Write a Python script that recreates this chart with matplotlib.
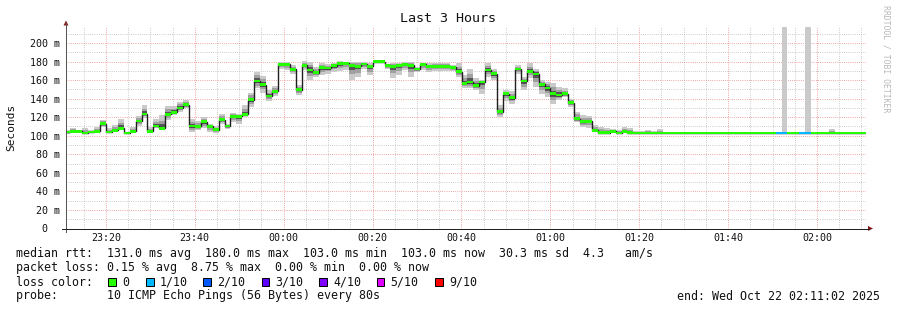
import numpy as np
import matplotlib
matplotlib.use('Agg')
import matplotlib.pyplot as plt
import matplotlib.dates as mdates
from matplotlib.ticker import MultipleLocator, FuncFormatter
from matplotlib.patches import Rectangle, Polygon
from matplotlib.lines import Line2D
from datetime import datetime, timedelta

# ---------------- data (80 s steps) ----------------
median_ms = [104, 105, 105, 103, 104, 105, 113, 104, 106, 108,
             103, 105, 116, 123.5, 105, 110.5, 108, 123, 125.5, 130,
             133.5, 110.5, 110, 115, 110, 106.5, 117.5, 110.5, 121, 121,
             123, 139, 159, 155, 143, 148, 177, 177, 171.5, 149.5,
             176, 171, 168, 173.5, 173, 175.5, 178, 178, 176, 175,
             177.5, 175, 180, 180, 176, 175, 176, 177, 176, 172,
             177, 175, 175, 175, 175, 174, 169, 156.5, 158, 154,
             158, 171, 167, 126, 145.5, 141, 172, 159, 169.5, 166.5,
             155.5, 151.5, 145.5, 144, 145.5, 135.5, 118.5, 115, 115.5, 106,
             103.5, 103.5, 105, 103, 105, 103.5] + [103] * 40

smoke_hi = [106.5, 108.5, 106, 108, 106, 109.5, 117.5, 108, 111.5, 118.5,
            104.5, 109.5, 121, 133, 109.5, 118.5, 122, 132, 132, 136.5,
            138.5, 118.5, 116, 120.5, 113, 110.5, 124, 113, 125, 124,
            133, 146.5, 169, 164.5, 149, 154, 180, 180, 176, 154.5,
            180.5, 180, 174.5, 178, 177.5, 179, 180.5, 180, 180, 180,
            180, 178, 181, 181, 177, 179, 179, 180, 180, 174.5,
            179, 178, 179, 179, 179, 176.5, 178, 165.5, 172.5, 162.5,
            160, 178, 172.5, 133, 149, 148, 176, 163.5, 178, 172.5,
            160, 158, 156.5, 153, 151, 140, 126, 122, 121, 111.5,
            109.5, 108, 107, 106, 109.5, 108, 105, 105, 106, 105.5,
            107, 104, 104, 104, 104, 104, 104, 104, 104, 104,
            104, 104, 104, 104, 104, 104, 104, 104, 104, 104,
            104, 230, 104, 104, 104, 230, 104, 104, 104, 107,
            104, 104, 104, 104, 104, 104]

smoke_lo = [101.5, 102.5, 103, 101.5, 103, 104, 109.5, 102.5, 104, 106,
            101.5, 103.5, 111, 119, 102.5, 108, 106, 117, 122, 125.5,
            130, 104, 106, 108, 104, 103.5, 113, 107, 115, 113,
            120.5, 131, 151, 146.5, 138, 143, 172.5, 171, 167, 144,
            171, 160, 163.5, 166, 167, 169, 170, 171, 160, 163.5,
            172.5, 165.5, 179, 179, 172, 162, 165, 171, 163.5, 169,
            171, 169, 170, 170, 170, 169.5, 163.5, 151, 151, 149,
            145.5, 163.5, 160, 120.5, 138, 134.5, 167, 149, 162, 153,
            145.5, 142, 134.5, 138.5, 142, 131, 115, 109.5, 108.5, 104,
            102.5, 102.5, 103.5, 101.5, 104, 102.5, 102.5, 102.5, 102.5, 102.5,
            102.5, 102.5, 102.5, 102.5, 102.5, 102.5, 102.5, 102.5, 102.5, 102.5,
            102.5, 102.5, 102.5, 102.5, 102.5, 102.5, 102.5, 102.5, 102.5, 102.5,
            102.5, 103, 102.5, 102.5, 102.5, 103, 102.5, 102.5, 102.5, 102.5,
            102.5, 102.5, 102.5, 102.5, 102.5, 102.5]

lost_pings = [0] * 120 + [1, 1, 0, 0, 1, 1] + [0] * 10

y_ticks_ms = [0, 20, 40, 60, 80, 100, 120, 140, 160, 180, 200]

loss_labels = ['0', '1/10', '2/10', '3/10', '4/10', '5/10', '9/10']
loss_colors = ['#26ff00', '#00b8ff', '#0059ff', '#5e00ff', '#7e00ff', '#dd00ff', '#ff0000']

title = 'Last 3 Hours'
stat_lines = [
    'median rtt:  131.0 ms avg  180.0 ms max  103.0 ms min  103.0 ms now  30.3 ms sd  4.3   am/s',
    'packet loss: 0.15 % avg  8.75 % max  0.00 % min  0.00 % now',
    'loss color:',
    'probe:       10 ICMP Echo Pings (56 Bytes) every 80s',
]
end_text = 'end: Wed Oct 22 02:11:02 2025'

t_start = datetime(2025, 10, 21, 23, 11, 2)
t_end = datetime(2025, 10, 22, 2, 11, 2)
step_origin = datetime(2025, 10, 21, 23, 10, 42)
step_s = 80

# ---------------- figure ----------------
W, H = 897, 310
fig = plt.figure(figsize=(W / 100, H / 100), dpi=100)
fig.patch.set_facecolor('white')
MONO = 'DejaVu Sans Mono'
PX = 0.72  # one pixel in points

L, R, T, B = 66, 866, 27, 228.5
ax = fig.add_axes([L / W, 1 - B / H, (R - L) / W, (B - T) / H])


def fx(x):
    return x / W


def fy(y):
    return 1 - y / H


med = np.array(median_ms, dtype=float)
hi = np.array(smoke_hi, dtype=float)
lo = np.array(smoke_lo, dtype=float)
n = len(med)
edges = mdates.date2num([step_origin + timedelta(seconds=step_s * i) for i in range(n + 1)])
wid = step_s / 86400.0
left = edges[:-1]

# smoke layers
ax.bar(left, hi - lo, bottom=lo, width=wid, align='edge', color='#cacaca', linewidth=0, zorder=2)
spread_ok = (hi - med) < 40
for frac, col in [(0.6, '#a0a0a0'), (0.3, '#555555')]:
    up = np.where(spread_ok, med + frac * (hi - med), med)
    dn = med - frac * (med - lo)
    ax.bar(left, up - dn, bottom=dn, width=wid, align='edge', color=col, linewidth=0, zorder=3)

# median line
ax.stairs(med, edges, baseline=None, color='#202020', linewidth=1.4 * PX, zorder=4)

# loss coloured median band
band_cols = [loss_colors[k] for k in lost_pings]
ax.bar(left, 3.0, bottom=med - 1.5, width=wid, align='edge', color=band_cols, linewidth=0, zorder=5)

ax.set_xlim(mdates.date2num(t_start), mdates.date2num(t_end))
ax.set_ylim(0, 217.3)

ax.set_yticks(y_ticks_ms)
ax.yaxis.set_minor_locator(MultipleLocator(10))
ax.yaxis.set_major_formatter(FuncFormatter(lambda v, p: '0  ' if v == 0 else f'{int(v)} m'))
ax.xaxis.set_major_locator(mdates.MinuteLocator(byminute=[0, 20, 40]))
ax.xaxis.set_minor_locator(mdates.MinuteLocator(byminute=list(range(0, 60, 5))))
ax.xaxis.set_major_formatter(mdates.DateFormatter('%H:%M'))

dot = (0, (1 * PX, 2 * PX))
ax.grid(which='minor', color='#bdbdbd', linestyle=dot, linewidth=PX, zorder=0)
ax.grid(which='major', color='#ec8a8a', linestyle=dot, linewidth=PX, zorder=0)
ax.set_axisbelow(True)

ax.tick_params(which='both', length=0)
ax.tick_params(axis='y', pad=4.3, labelsize=7.2, labelcolor='#111111')
ax.tick_params(axis='x', pad=3.4, labelsize=7.2, labelcolor='#111111')
for lab in ax.get_xticklabels() + ax.get_yticklabels():
    lab.set_fontfamily(MONO)
for s in ax.spines.values():
    s.set_visible(False)

# axis lines and arrows
fig.add_artist(Line2D([fx(L), fx(L)], [fy(232), fy(23)], color='#555555', lw=PX))
fig.add_artist(Line2D([fx(62), fx(869)], [fy(B), fy(B)], color='#202020', lw=PX))
fig.add_artist(Polygon([[fx(63.5), fy(25.5)], [fx(68.5), fy(25.5)], [fx(66), fy(20.5)]],
                       closed=True, color='#8b1a1a', lw=0))
fig.add_artist(Polygon([[fx(868), fy(B - 2.5)], [fx(868), fy(B + 2.5)], [fx(873), fy(B)]],
                       closed=True, color='#8b1a1a', lw=0))

# texts
fig.text(fx(448), fy(19), title, ha='center', va='center', fontsize=9.6, family=MONO, color='#111111')
fig.text(fx(11), fy(127), 'Seconds', ha='center', va='center', rotation=90, fontsize=8, family=MONO,
         color='#111111')
fig.text(fx(886), fy(5), 'RRDTOOL / TOBI OETIKER', ha='center', va='top', rotation=-90, fontsize=5.9,
         family=MONO, color='#b8b8b8')

base_y = [257.5, 271.5, 285.5, 299.5]
for s, y in zip(stat_lines, base_y):
    fig.text(fx(16), fy(y), s, ha='left', va='baseline', fontsize=8.4, family=MONO, color='#111111')
fig.text(fx(880), fy(299.5), end_text, ha='right', va='baseline', fontsize=8.4, family=MONO, color='#111111')

box_x = [108, 146, 203, 261.5, 319, 376.5, 435]
for bx, col, lab in zip(box_x, loss_colors, loss_labels):
    fig.add_artist(Rectangle((fx(bx), fy(285.5)), 7.5 / W, 7.5 / H, transform=fig.transFigure,
                             facecolor=col, edgecolor='black', lw=PX))
    fig.text(fx(bx + 14), fy(285.5), lab, ha='left', va='baseline', fontsize=8.4, family=MONO,
             color='#111111')

fig.savefig('out.png', dpi=100, facecolor='white')
